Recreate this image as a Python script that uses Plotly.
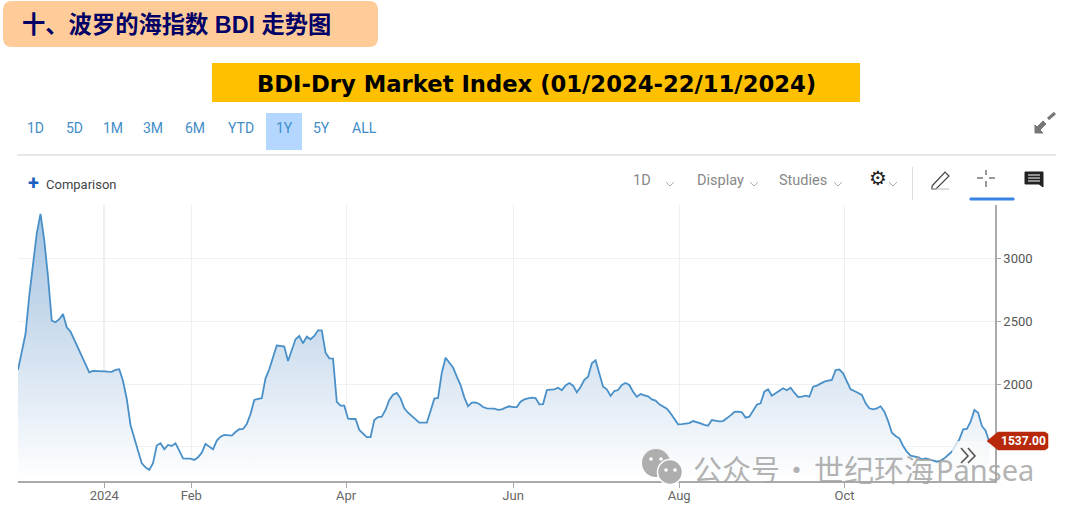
import plotly.graph_objects as go

W, H = 1069, 510
# Baltic Dry Index, one value per trading session
bdi_values = [
 2112,2265,2397,2699,2940,3196,3350,3143,2852,2503,2490,2514,2556,2450,2416,2350,2297,2223,2159,2093,
 2104,2104,2101,2101,2098,2096,2112,2117,2024,1881,1675,1566,1471,1371,1339,1318,1371,1511,1529,1482,
 1516,1508,1529,1471,1410,1408,1408,1397,1418,1455,1524,1503,1482,1551,1582,1596,1593,1590,1619,1641,
 1643,1683,1762,1873,1881,1887,2045,2117,2212,2305,2302,2297,2183,2270,2355,2381,2323,2376,2355,2381,
 2426,2426,2249,2204,2201,1858,1828,1828,1725,1722,1722,1635,1608,1579,1579,1714,1738,1741,1794,1873,
 1915,1929,1886,1807,1772,1743,1722,1693,1693,1693,1786,1884,1889,2090,2209,2169,2132,2058,1992,1894,
 1823,1852,1854,1841,1817,1807,1804,1804,1794,1799,1812,1823,1817,1817,1860,1878,1886,1892,1889,1839,
 1841,1952,1955,1958,1971,1950,1989,2008,1987,1934,1976,2034,2058,2164,2188,2077,1979,1958,1905,1944,
 1952,1992,2008,1992,1939,1899,1921,1910,1902,1878,1868,1839,1820,1804,1767,1727,1680,1682,1685,1690,
 1706,1698,1688,1675,1669,1714,1706,1704,1706,1727,1751,1778,1780,1775,1733,1741,1788,1836,1847,1939,
 1958,1907,1926,1944,1966,1950,1971,1931,1897,1899,1907,1899,1979,1987,2005,2019,2026,2032,2111,2116,
 2085,2019,1958,1944,1931,1913,1847,1807,1799,1807,1823,1780,1706,1614,1587,1569,1508,1463,1431,1423,
 1418,1402,1410,1402,1392,1383,1392,1410,1436,1463,1516,1561,1640,1643,1701,1794,1772,1667,1630,1537]
sessions = list(range(len(bdi_values)))
x_tick_sessions = [23, 46.2, 87.5, 132, 176.3, 220.4]
x_tick_labels = ["2024", "Feb", "Apr", "Jun", "Aug", "Oct"]
y_ticks = [1500, 2000, 2500, 3000]
y_tick_labels = ["", "2000", "2500", "3000"]
range_buttons = ["1D", "5D", "1M", "3M", "6M", "YTD", "1Y", "5Y", "ALL"]
last_price = "1537.00"
heading = "十、波罗的海指数 BDI 走势图"
subtitle = "BDI-Dry Market Index (01/2024-22/11/2024)"

def px(x): return x / W
def py(y): return 1 - y / H

fig = go.Figure()
fig.add_trace(go.Scatter(
    x=sessions, y=bdi_values, mode="lines",
    line=dict(color="#4a90c8", width=1.8),
    fill="tozeroy",
    fillgradient=dict(type="vertical", start=3350, stop=1230,
                      colorscale=[[0, "#A5C4E2"], [0.4, "#C8DAEC"], [0.64, "#DEE9F4"], [0.87, "#F3F7FB"], [1, "#FFFFFF"]]),
    hoverinfo="skip", showlegend=False))

shapes, ann = [], []
def rect(x0, y0, x1, y1, fill, line=None, lw=0):
    shapes.append(dict(type="rect", xref="paper", yref="paper", x0=px(x0), x1=px(x1), y0=py(y0), y1=py(y1),
                       fillcolor=fill, line=dict(color=line or fill, width=lw), layer="above"))
def seg(pts, color, lw=1.5, fill=None):
    p = "M" + " L".join(f"{px(a):.5f},{py(b):.5f}" for a, b in pts)
    if fill: p += " Z"
    shapes.append(dict(type="path", xref="paper", yref="paper", path=p, fillcolor=fill,
                       line=dict(color=color, width=lw), layer="above"))
def circ(cx, cy, r, fill, line=None, lw=0):
    shapes.append(dict(type="circle", xref="paper", yref="paper", x0=px(cx-r), x1=px(cx+r), y0=py(cy+r), y1=py(cy-r),
                       fillcolor=fill, line=dict(color=line or fill, width=lw), layer="above"))
def text(x, y, s, size, color, family="Roboto", anchor="center", bold=False):
    ann.append(dict(xref="paper", yref="paper", x=px(x), y=py(y), text=f"<b>{s}</b>" if bold else s,
                    showarrow=False, xanchor=anchor, yanchor="middle",
                    font=dict(size=size, color=color, family=family)))
def rounded(x0, y0, x1, y1, r, fill):
    p = (f"M{px(x0+r)},{py(y0)} L{px(x1-r)},{py(y0)} Q{px(x1)},{py(y0)} {px(x1)},{py(y0+r)} "
         f"L{px(x1)},{py(y1-r)} Q{px(x1)},{py(y1)} {px(x1-r)},{py(y1)} L{px(x0+r)},{py(y1)} "
         f"Q{px(x0)},{py(y1)} {px(x0)},{py(y1-r)} L{px(x0)},{py(y0+r)} Q{px(x0)},{py(y0)} {px(x0+r)},{py(y0)} Z")
    shapes.append(dict(type="path", xref="paper", yref="paper", path=p, fillcolor=fill, line=dict(width=0), layer="above"))
def chevron(x, y):
    seg([(x-4, y-2), (x, y+2), (x+4, y-2)], "#aaaaaa", 1)

# headers
rounded(3, 1, 378, 47, 9, "#FFCC99")
text(20, 25, heading, 23.3, "#000066", "Liberation Sans, Noto Sans CJK SC", "left", True)
rect(212, 63, 860, 102, "#FFC000")
text(536, 84, subtitle, 22.7, "#000000", "DejaVu Sans", "center", True)

# range buttons
rect(266, 113, 302, 150, "#B3D7FF")
for b, x in zip(range_buttons, [35, 74, 113, 153, 195, 241, 284, 321, 364]):
    text(x, 128, b, 14, "#3F8CC6")
rect(17, 154, 1056, 156, "#E8E8E8")
seg([(1035, 133), (1035, 125), (1037, 127), (1043, 121), (1046, 124), (1040, 130), (1043, 133)], "#777777", 1, "#777777")
seg([(1048, 119), (1055, 113)], "#777777", 3)

# toolbar
text(33, 183, "+", 20, "#1B5FC1", anchor="center", bold=True)
text(44, 184, "Comparison", 13, "#444444", anchor="left")
text(642, 180, "1D", 14.5, "#888888")
chevron(670, 184)
text(720, 180, "Display", 14.5, "#888888")
chevron(754, 184)
text(803, 180, "Studies", 14.5, "#888888")
chevron(838, 184)
text(878, 178, "⚙", 20, "#222222", "DejaVu Sans")
chevron(893, 184)
rect(912, 167, 913, 200, "#DDDDDD")
seg([(932, 186), (945, 172), (949, 176), (936, 189), (932, 189), (932, 186)], "#444444", 1.2)
seg([(932, 189), (949, 189)], "#bbbbbb", 1)
seg([(986, 170), (986, 175)], "#555555", 1.2); seg([(986, 181), (986, 187)], "#555555", 1.2)
seg([(977, 178), (983, 178)], "#555555", 1.2); seg([(989, 178), (995, 178)], "#555555", 1.2)
rect(970, 198, 1014, 200, "#3B82E6", "#3B82E6", 1)
seg([(1025, 172), (1043, 172), (1043, 187), (1039, 184), (1025, 184)], "#222222", 1, "#222222")
for yy in (175, 178, 181):
    seg([(1028, yy), (1040, yy)], "#ffffff", 1)

# price tag
seg([(987, 441), (998, 432), (1045, 432), (1048, 434), (1048, 448), (1045, 450), (998, 450)], "#B7290A", 0.5, "#B7290A")
text(1023, 441, last_price, 12, "#ffffff", "Roboto", bold=True)

# collapse box
rect(952, 441, 985, 468, "rgba(250,250,250,0.75)")
seg([(961, 448), (968, 456), (961, 463)], "#555555", 1.6)
seg([(968, 448), (975, 456), (968, 463)], "#555555", 1.6)

# watermark
circ(656, 463, 14, "#aeaeae")
circ(670, 472, 12.5, "#aeaeae", "#ffffff", 1.5)
for cx, cy in [(651, 459), (661, 459), (666, 470), (675, 470)]:
    circ(cx, cy, 1.8, "#ffffff")
wm_font = "Noto Sans CJK SC, Noto Sans"
wm_color = "rgba(165,165,165,0.85)"
text(691, 468, "公众号", 29, wm_color, wm_font, "left")
text(796, 468, "·", 29, wm_color, wm_font, "center")
text(812, 468, "世纪环海", 30, wm_color, wm_font, "left")
text(934, 469, "Pansea", 29, wm_color, "Noto Sans", "left")

fig.update_layout(
    width=W, height=H, margin=dict(l=0, r=0, t=0, b=0), autosize=False,
    paper_bgcolor="#ffffff", plot_bgcolor="#ffffff", showlegend=False,
    shapes=shapes, annotations=ann,
    xaxis=dict(domain=[px(18), px(995)], range=[0, 260.5], tickmode="array",
               tickvals=x_tick_sessions, ticktext=x_tick_labels, showgrid=True, gridcolor="#EFEFEF", gridwidth=1,
               ticks="outside", ticklen=5, tickcolor="#aaaaaa", showline=True, linecolor="#AAAAAA", linewidth=2,
               ticklabelstandoff=-4,
               tickfont=dict(size=13, color="#666666", family="Roboto"), zeroline=False, fixedrange=True),
    yaxis=dict(domain=[py(481), py(205)], range=[1230, 3421], side="right", tickmode="array",
               tickvals=y_ticks, ticktext=y_tick_labels, showgrid=True, gridcolor="#F0F0F0", gridwidth=1,
               ticks="outside", ticklen=4, tickcolor="#aaaaaa", showline=True, linecolor="#AAAAAA", linewidth=1.5,
               tickfont=dict(size=13, color="#555555", family="Roboto"), zeroline=False, fixedrange=True),
)
# stronger year boundary line, as in the source chart
fig.add_vline(x=x_tick_sessions[0], line=dict(color="#CFCFCF", width=1.2), layer="below")
fig.write_html("out.html", config=dict(displayModeBar=False), post_script="document.body.style.margin='0'")
